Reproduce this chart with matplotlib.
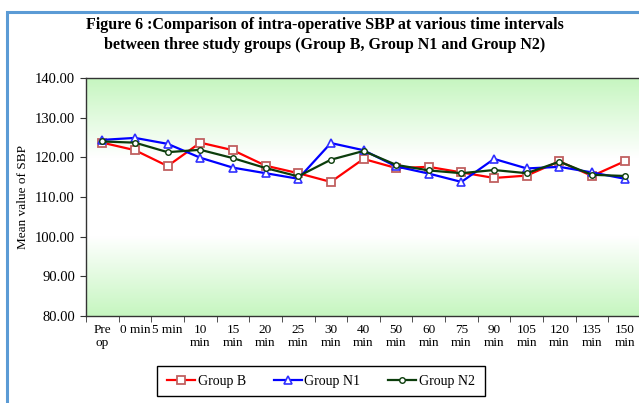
import numpy as np
import matplotlib.pyplot as plt
from matplotlib.patches import Rectangle
from matplotlib.colors import LinearSegmentedColormap

plt.rcParams['font.family'] = ['Liberation Serif', 'DejaVu Serif']

# datos
tiempos = ["Pre\nop", "0 min", "5 min", "10\nmin", "15\nmin", "20\nmin", "25\nmin",
           "30\nmin", "40\nmin", "50\nmin", "60\nmin", "75\nmin", "90\nmin",
           "105\nmin", "120\nmin", "135\nmin", "150\nmin"]
grupo_b = [123.7, 121.8, 117.8, 123.7, 121.8, 117.9, 116.0, 113.8, 119.6, 117.3,
           117.6, 116.2, 114.8, 115.4, 119.0, 115.3, 119.0]
grupo_n1 = [124.4, 124.9, 123.4, 119.9, 117.4, 116.0, 114.6, 123.6, 121.8, 117.7,
            115.9, 113.8, 119.6, 117.2, 117.6, 116.2, 114.6]
grupo_n2 = [124.0, 123.7, 121.3, 121.9, 119.8, 117.3, 115.2, 119.4, 121.6, 118.1,
            116.7, 116.0, 116.8, 116.0, 118.9, 115.6, 115.3]
y_ticks = [80, 90, 100, 110, 120, 130, 140]

W, H = 639, 403
fig = plt.figure(figsize=(W / 100, H / 100), dpi=100)

# marco azul de la figura
fig.patches.append(Rectangle((6.5 / W, -0.1), 1.2, 1 - 11.5 / H + 0.1,
                             transform=fig.transFigure, fill=False,
                             edgecolor="#5b9bd5", linewidth=2.2))

ax = fig.add_axes([86 / W, 1 - 316 / H, (641 - 86) / W, (316 - 78) / H])

n = len(tiempos)
x = np.arange(n)
ax.set_xlim(-0.5, n - 0.5)
ax.set_ylim(80, 140)

# fondo degradado verde-blanco-verde
cmap = LinearSegmentedColormap.from_list("g", ["#c6f6c0", "#ffffff", "#ffffff", "#c6f6c0"])
grad = np.linspace(0, 1, 256).reshape(-1, 1)
ax.imshow(grad, cmap=cmap, aspect="auto", extent=(-0.5, n - 0.5, 80, 140),
          zorder=0, interpolation="bilinear")

ax.plot(x, grupo_b, color="#ff0000", lw=1.6, marker="s", ms=6, mfc="white",
        mec="#c06060", mew=1.3, label="Group B", zorder=3)
ax.plot(x, grupo_n1, color="#0000ff", lw=1.6, marker="^", ms=6, mfc="white",
        mec="#3030ff", mew=1.2, label="Group N1", zorder=4)
ax.plot(x, grupo_n2, color="#0b3d0b", lw=1.6, marker="o", ms=4, mfc="white",
        mec="#0b3d0b", mew=1.0, label="Group N2", zorder=5)

ax.set_yticks(y_ticks)
ax.set_yticklabels([f"{v:.2f}" for v in y_ticks], fontsize=10.5)
ax.set_xticks(x)
ax.set_xticklabels(tiempos, fontsize=9.5, linespacing=1.05)
ax.set_xticks(np.arange(-0.5, n), minor=True)
ax.tick_params(axis="x", which="major", length=0, pad=6)
ax.tick_params(axis="x", which="minor", length=4, direction="out", color="#333333")
ax.tick_params(axis="y", length=4, direction="out", pad=4, color="#333333")
for s in ["left", "top", "bottom"]:
    ax.spines[s].set_color("#333333")
    ax.spines[s].set_linewidth(1.0)
ax.spines["right"].set_visible(False)

ax.set_ylabel("Mean value of SBP", fontsize=9.5, labelpad=4)

fig.text(325 / W, 1 - 35 / H,
         "Figure 6 :Comparison of intra-operative SBP at various time intervals\n"
         "between three study groups (Group B, Group N1 and Group N2)",
         ha="center", va="center", fontsize=11.5, fontweight="bold", linespacing=1.3)

leg = fig.legend(loc="center", bbox_to_anchor=(321 / W, 1 - 381 / H), ncol=3,
                 fontsize=10, frameon=False, handlelength=2.0, columnspacing=2.0,
                 handletextpad=0.2, borderpad=0.3)
# recuadro de la leyenda
fig.patches.append(Rectangle((157 / W, 1 - 396 / H), (485 - 157) / W, 30 / H,
                             transform=fig.transFigure, fill=False,
                             edgecolor="black", linewidth=1.0))

fig.savefig("out.png", dpi=100)
